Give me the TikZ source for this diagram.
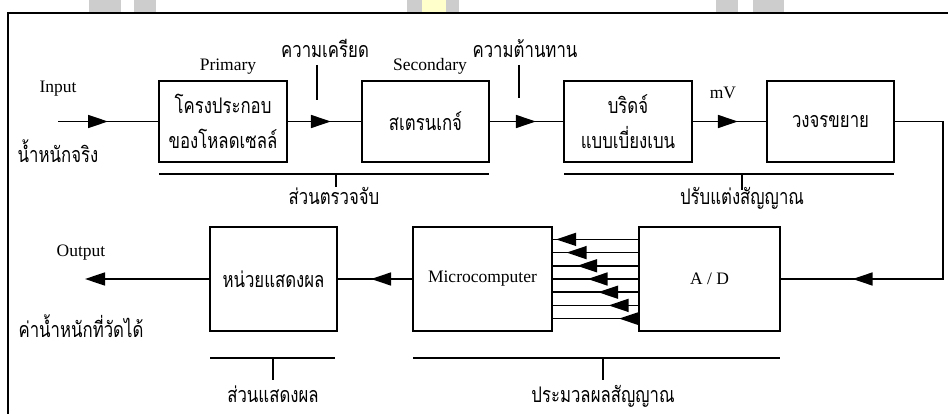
\documentclass[tikz,border=0pt]{standalone}
\usepackage{fontspec}
\setmainfont{Liberation Serif}
\newfontfamily\thai[Script=Thai,FakeStretch=0.78]{Loma}
\usetikzlibrary{arrows.meta,decorations.markings}
\definecolor{wmgray}{HTML}{CDCDCD}
\definecolor{wmyellow}{HTML}{FFFFCC}
\begin{document}
\begin{tikzpicture}[x=1pt,y=-1pt,
  box/.style={draw, line width=1.8pt, inner sep=0pt, minimum width=#1, minimum height=81pt, align=center, font=\thai\fontsize{21.5}{35}\selectfont},
  bbox/.style={draw, line width=1.8pt, inner sep=0pt, minimum width=#1, minimum height=104pt, align=center},
  lat/.style={inner sep=0pt, font=\fontsize{17.5}{21}\selectfont},
  th/.style={inner sep=0pt, font=\thai\fontsize{21.5}{25}\selectfont},
  conn/.style={line width=1.6pt},
  tip/.style={-{Triangle[length=20pt,width=13pt]}},
  midarrow/.style={postaction={decorate}, decoration={markings, mark=at position #1 with {\arrow{Triangle[length=20pt,width=13pt]}}}}
]
\useasboundingbox (0,0) rectangle (948,414);
% watermark bars
\fill[wmgray] (89,0) rectangle (121,12.5);
\fill[wmgray] (134,0) rectangle (156,12.5);
\fill[wmgray] (407,0) rectangle (422,12.5);
\fill[wmyellow] (422,0) rectangle (446,12.5);
\fill[wmgray] (446,0) rectangle (459,12.5);
\fill[wmgray] (716,0) rectangle (738,12.5);
\fill[wmgray] (753,0) rectangle (784,12.5);
% frame
\draw[line width=2pt] (7.5,414) -- (7.5,13.5) -- (948,13.5);

% top row
\node[box=128pt] (b1) at (223,121.5) {โครงประกอบ\\ของโหลดเซลล์};
\node[box=127pt] (b2) at (425.5,121.5) {สเตรนเกจ์};
\node[box=128pt] (b3) at (628,121.5) {บริดจ์\\แบบเบี่ยงเบน};
\node[box=127pt] (b4) at (830.5,121.5) {วงจรขยาย};

% bottom row
\node[bbox=127pt, font=\thai\fontsize{21.5}{25}\selectfont] (disp) at (273.5,279) {หน่วยแสดงผล};
\node[bbox=139pt, lat] (mc) at (482.5,279) {Microcomputer};
\node[bbox=141pt, lat] (ad) at (709.5,279) {A / D};

% labels
\node[lat, anchor=base] (inlab) at (58,93) {Input};
\node[th, anchor=base] (inth) at (58,163) {น้ำหนักจริง};
\node[lat, anchor=base] (prim) at (228,71) {Primary};
\node[th, anchor=base] (strain) at (325,58) {ความเครียด};
\node[lat, anchor=base] (sec) at (430,71) {Secondary};
\node[th, anchor=base] (res) at (525,58) {ความต้านทาน};
\node[lat, anchor=base] (mv) at (723,99) {mV};
\node[lat, anchor=base] (outlab) at (81,257) {Output};
\node[th, anchor=base] (outth) at (81,337) {ค่าน้ำหนักที่วัดได้};
\node[th, anchor=base] (g1) at (334,205) {ส่วนตรวจจับ};
\node[th, anchor=base] (g2) at (742,205) {ปรับแต่งสัญญาณ};
\node[th, anchor=base] (g3) at (273,402) {ส่วนแสดงผล};
\node[th, anchor=base] (g4) at (603,402) {ประมวลผลสัญญาณ};

% coordinates
\coordinate (inp) at (58,121.5);
\coordinate (outp) at (85,279);
\coordinate (rc) at (943,121.5);
\coordinate (t1a) at (317,65);
\coordinate (t1b) at (317,100);
\coordinate (t2a) at (519,65);
\coordinate (t2b) at (519,98);

% connectors
\draw[conn, midarrow=50pt] (inp) -- (b1.west);
\draw[conn, midarrow=43pt] (b1.east) -- (b2.west);
\draw[conn, midarrow=46pt] (b2.east) -- (b3.west);
\draw[conn, midarrow=45pt] (b3.east) -- (b4.west);
\draw[conn, midarrow=296pt] (b4.east) -- (rc) |- (ad.east);
\foreach \k in {0,...,6}{
  \pgfmathsetmacro{\dy}{(\k-3)*13.2}
  \pgfmathsetmacro{\pos}{82-10.5*\k}
  \draw[conn, midarrow=\pos pt] ([yshift=-\dy pt]ad.west) -- ([yshift=-\dy pt]mc.east);
}
\draw[conn, midarrow=41pt] (mc.west) -- (disp.east);
\draw[conn, tip] (disp.west) -- (outp);
\draw[conn] (t1a) -- (t1b);
\draw[conn] (t2a) -- (t2b);

% group brackets
\draw[conn] (159,174) -- (489,174) (336,174) -- (336,187);
\draw[conn] (564,174) -- (894,174) (742,174) -- (742,190);
\draw[conn] (210,358) -- (335,358) (273,358) -- (273,380);
\draw[conn] (413,358) -- (780,358) (603,358) -- (603,380);
\end{tikzpicture}
\end{document}
